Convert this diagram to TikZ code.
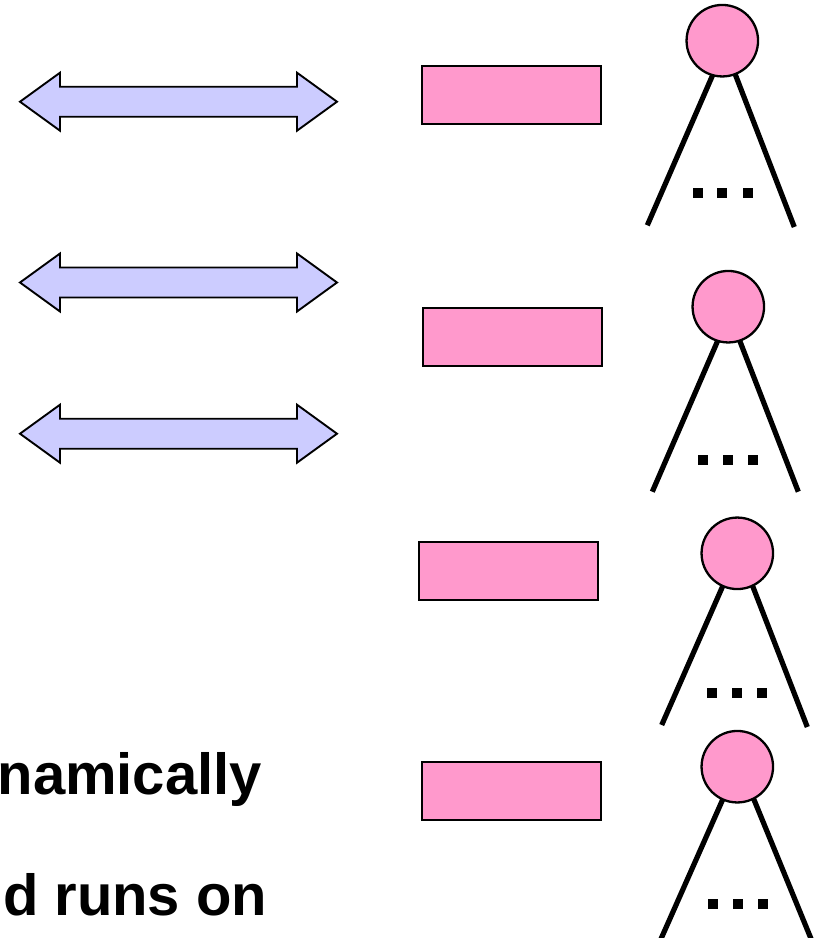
\documentclass[tikz,border=0pt]{standalone}
\usepackage{fontspec}
\setmainfont{Liberation Sans}
\usetikzlibrary{calc,backgrounds}

\definecolor{nodepink}{HTML}{FF99CC}
\definecolor{arrowblue}{HTML}{CCCCFF}

\tikzset{
  x=1pt, y=-1pt,
  slot/.style={draw=black, fill=nodepink, line width=2.3pt, rectangle,
    minimum width=179pt, minimum height=58pt, inner sep=0pt},
  root/.style={draw=black, fill=nodepink, line width=2.3pt, circle,
    minimum size=71.5pt, inner sep=0pt},
  branch/.style={draw=black, line width=5.2pt},
  dotsq/.style={fill=black, rectangle, minimum size=10pt, inner sep=0pt},
  caption/.style={anchor=base west, inner sep=0pt,
    font=\fontsize{58}{64}\selectfont\bfseries},
  dblarr/.pic={
    \draw[fill=arrowblue, line width=1.9pt, line join=miter]
      (-158.5,0) -- (-118.5,-29) -- (-118.5,-15) -- (118.5,-15)
      -- (118.5,-29) -- (158.5,0) -- (118.5,29) -- (118.5,15)
      -- (-118.5,15) -- (-118.5,29) -- cycle;
  }
}

\begin{document}
\begin{tikzpicture}
  \useasboundingbox (0,0) rectangle (814,938);

  % double-headed arrows
  \pic (arrA) at (178.5,101.7) {dblarr};
  \pic (arrB) at (178.5,282.5) {dblarr};
  \pic (arrC) at (178.5,433.7) {dblarr};

  % pink slots
  \node[slot] (slotA) at (511.5,95.2) {};
  \node[slot] (slotB) at (512.2,337.3) {};
  \node[slot] (slotC) at (508.3,571) {};
  \node[slot] (slotD) at (511.7,790.7) {};

  % tree roots
  \node[root] (rootA) at (722.3,40.7) {};
  \node[root] (rootB) at (728.3,306.7) {};
  \node[root] (rootC) at (737.3,553.3) {};
  \node[root] (rootD) at (737.3,766.7) {};

  % branch ends
  \coordinate (lA) at (647.3,225.3);  \coordinate (rA) at (794.3,227);
  \coordinate (lB) at (652.3,491.7);  \coordinate (rB) at (798.3,491.7);
  \coordinate (lC) at (661.7,725);    \coordinate (rC) at (807.3,727);
  \coordinate (lD) at (658.3,945);    \coordinate (rD) at (813.6,945);

  % branches, drawn behind the roots
  \begin{scope}[on background layer]
    \draw[branch] ($(rootA)!0.8!(rootA.-104)$) -- (lA);
    \draw[branch] ($(rootA)!0.8!(rootA.-69)$)  -- (rA);
    \draw[branch] ($(rootB)!0.8!(rootB.-106)$) -- (lB);
    \draw[branch] ($(rootB)!0.8!(rootB.-72)$)  -- (rB);
    \draw[branch] ($(rootC)!0.8!(rootC.-114)$) -- (lC);
    \draw[branch] ($(rootC)!0.8!(rootC.-64)$)  -- (rC);
    \draw[branch] ($(rootD)!0.8!(rootD.-114)$) -- (lD);
    \draw[branch] ($(rootD)!0.8!(rootD.-62)$)  -- (rD);
  \end{scope}

  % ellipsis dots under each root
  \node[dotsq] (dA1) at (698.3,193.3) {};
  \node[dotsq] (dA2) at (722.3,193.3) {};
  \node[dotsq] (dA3) at (747.7,193.3) {};
  \node[dotsq] (dB1) at (702.7,460) {};
  \node[dotsq] (dB2) at (727.7,460) {};
  \node[dotsq] (dB3) at (752.7,460) {};
  \node[dotsq] (dC1) at (712.3,692.7) {};
  \node[dotsq] (dC2) at (737.3,692.7) {};
  \node[dotsq] (dC3) at (761.7,692.7) {};
  \node[dotsq] (dD1) at (713.3,904.3) {};
  \node[dotsq] (dD2) at (738.3,904.3) {};
  \node[dotsq] (dD3) at (762.7,904.3) {};

  % captions
  \node[caption] (capA) at (-2.6,794.5) {namically};
  \node[caption] (capB) at (2.8,915) {d runs on};
\end{tikzpicture}
\end{document}
